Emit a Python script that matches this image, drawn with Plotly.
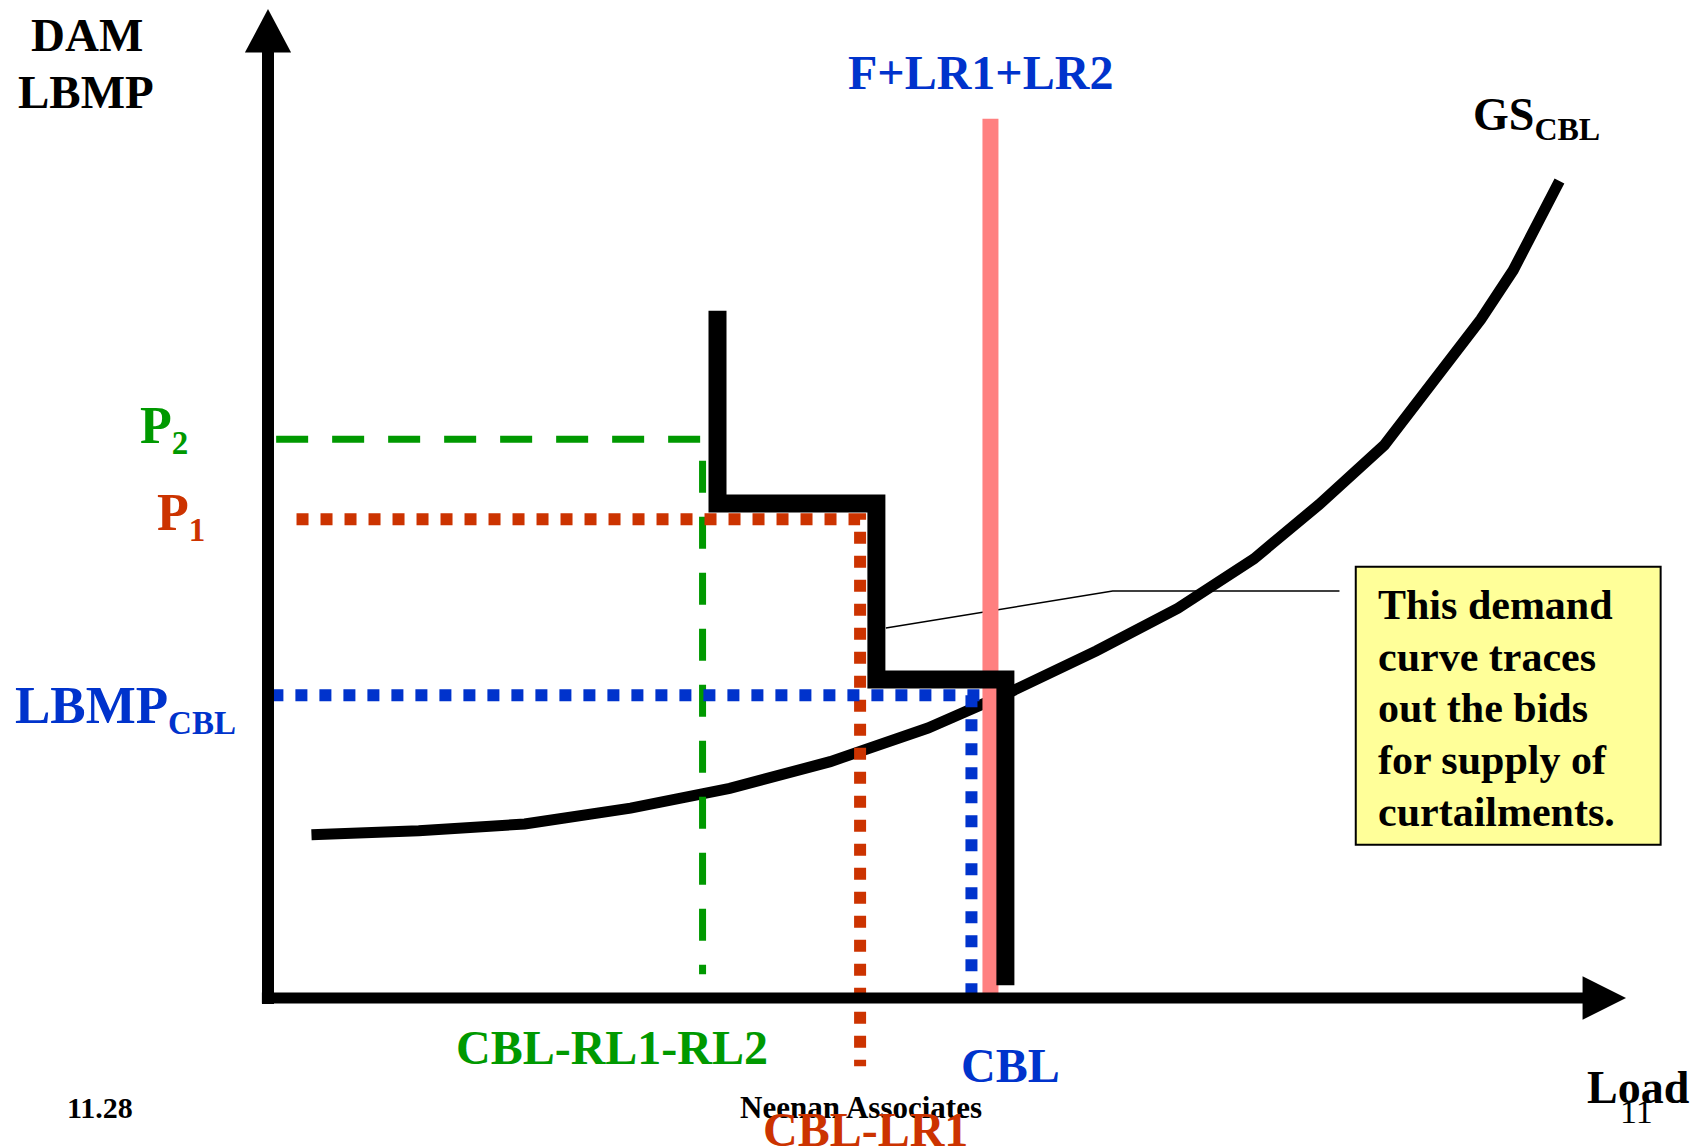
import plotly.graph_objects as go

# ---------------- data (load units, price units) ----------------
gs_load = [3.2, 11.1, 18.9, 26.7, 34.0, 41.4, 48.6, 54.6, 61.0, 67.0,
           72.6, 77.4, 82.2, 86.1, 89.3, 91.7, 92.7, 95.1]
gs_price = [16.5, 16.9, 17.6, 19.2, 21.2, 23.9, 27.3, 30.9, 35.1, 39.4,
            44.4, 49.9, 55.9, 62.7, 68.6, 73.6, 76.3, 82.6]

dem_load = [33.1, 33.1, 44.8, 44.8, 54.3, 54.3]
dem_price = [69.5, 50.0, 50.0, 32.2, 32.2, 1.3]

P2 = 56.5
P1 = 48.4
LBMP_CBL = 30.6
CBL_RL1_RL2 = 32.0
CBL_LR1 = 43.6
CBL = 51.8
F_LR1_LR2 = 53.2
F_LR_TOP = 88.9

AXIS_MAX = 100.0

callout_lines = ["This demand", "curve traces", "out the bids",
                 "for supply of", "curtailments."]

# ---------------- styles ----------------
BLUE = "#0033CC"
GREEN = "#009900"
RED = "#CC3300"
PINK = "#FF8080"
FONT = "Liberation Serif"

fig = go.Figure()

# supply curve
fig.add_trace(go.Scatter(x=gs_load, y=gs_price, mode="lines",
                         line=dict(color="black", width=11), hoverinfo="skip"))

# leader line from callout to the demand curve
fig.add_trace(go.Scatter(x=[45.5, 62.2, 78.9], y=[37.4, 41.15, 41.15], mode="lines",
                         line=dict(color="black", width=1.5), hoverinfo="skip"))

# green dashed (P2 / CBL-RL1-RL2)
fig.add_trace(go.Scatter(x=[0.6, CBL_RL1_RL2, CBL_RL1_RL2], y=[P2, P2, 2.4], mode="lines",
                         line=dict(color=GREEN, width=7, dash="32px,24px"), hoverinfo="skip"))

# red dotted (P1 / CBL-LR1)
fig.add_trace(go.Scatter(x=[2.1, CBL_LR1, CBL_LR1], y=[P1, P1, -6.9], mode="lines",
                         line=dict(color=RED, width=12, dash="12px,12px"), hoverinfo="skip"))

# blue dotted (LBMP_CBL / CBL)
fig.add_trace(go.Scatter(x=[0.25, 54.1], y=[LBMP_CBL, LBMP_CBL], mode="lines",
                         line=dict(color=BLUE, width=12, dash="12px,12px"), hoverinfo="skip"))
fig.add_trace(go.Scatter(x=[CBL, CBL], y=[LBMP_CBL, 0.3], mode="lines",
                         line=dict(color=BLUE, width=12, dash="12px,12px"), hoverinfo="skip"))

# pink F+LR1+LR2 line
fig.add_trace(go.Scatter(x=[F_LR1_LR2, F_LR1_LR2], y=[F_LR_TOP, 0], mode="lines",
                         line=dict(color=PINK, width=16), hoverinfo="skip"))

# demand (bid) step curve
fig.add_trace(go.Scatter(x=dem_load, y=dem_price, mode="lines",
                         line=dict(color="black", width=18), hoverinfo="skip"))

# axes
fig.add_trace(go.Scatter(x=[0, 0], y=[-0.6, 95.7], mode="lines",
                         line=dict(color="black", width=12), hoverinfo="skip"))
fig.add_trace(go.Scatter(x=[-0.45, 97.0], y=[0, 0], mode="lines",
                         line=dict(color="black", width=11), hoverinfo="skip"))

shapes = [
    dict(type="path", xref="x", yref="y", path=f"M -1.7,95.6 L 1.7,95.6 L 0,{AXIS_MAX} Z",
         fillcolor="black", line=dict(width=0)),
    dict(type="path", xref="x", yref="y", path=f"M 96.8,-2.2 L 96.8,2.2 L {AXIS_MAX},0 Z",
         fillcolor="black", line=dict(width=0)),
    # callout box
    dict(type="rect", xref="x", yref="y", x0=80.1, x1=102.55, y0=15.5, y1=43.6,
         fillcolor="#FFFF99", line=dict(color="black", width=2), layer="above"),
]


def ann(text, x, y, size, color="black", xanchor="center", yanchor="middle",
        weight="bold", **kw):
    d = dict(text=text, x=x, y=y, xref="x", yref="y", showarrow=False,
             xanchor=xanchor, yanchor=yanchor,
             font=dict(family=FONT, size=size, color=color, weight=weight))
    d.update(kw)
    return d


def sub(t, px):
    return f"<sub><span style='font-size:{px}px'>{t}</span></sub>"


annotations = [
    ann("DAM", -13.3, 97.4, 47),
    ann("LBMP", -13.4, 91.6, 47),
    ann("F+LR1+LR2", F_LR1_LR2, 93.6, 48, BLUE, xshift=-10),
    ann("GS" + sub("CBL", 32), 88.6, 89.0, 46, xanchor="left"),
    ann("P" + sub("2", 33), -9.6, P2 + 1.0, 52, GREEN, xanchor="left"),
    ann("P" + sub("1", 33), -8.3, P1 + 0.3, 52, RED, xanchor="left"),
    ann("LBMP" + sub("CBL", 33), -18.8, LBMP_CBL - 1.3, 53, BLUE, xanchor="left"),
    ann("CBL-RL1-RL2", 25.3, -5.0, 48, GREEN),
    ann("CBL", CBL + 2.9, -6.8, 48, BLUE),
    ann("11.28", -12.4, -11.1, 30),
    ann("Neenan Associates", 43.7, -11.1, 31),
    ann("CBL-LR1", CBL_LR1 + 0.4, -13.3, 48, RED),
    ann("Load", 100.9, -9.0, 46),
    ann("11", 100.8, -11.5, 34, weight="normal"),
]

# callout text, one annotation per line
for i, line in enumerate(callout_lines):
    annotations.append(ann(line, 81.6, 39.74 - i * 5.23, 42, xanchor="left"))

fig.update_layout(
    width=1702, height=1148,
    margin=dict(l=0, r=0, t=0, b=0),
    paper_bgcolor="white", plot_bgcolor="white",
    showlegend=False,
    xaxis=dict(range=[-19.735, 105.596], visible=False, fixedrange=True),
    yaxis=dict(range=[-15.167, 100.91], visible=False, fixedrange=True),
    shapes=shapes,
    annotations=annotations,
)

fig.write_html("out.html", config={"displayModeBar": False},
               post_script="document.body.style.margin='0';")
